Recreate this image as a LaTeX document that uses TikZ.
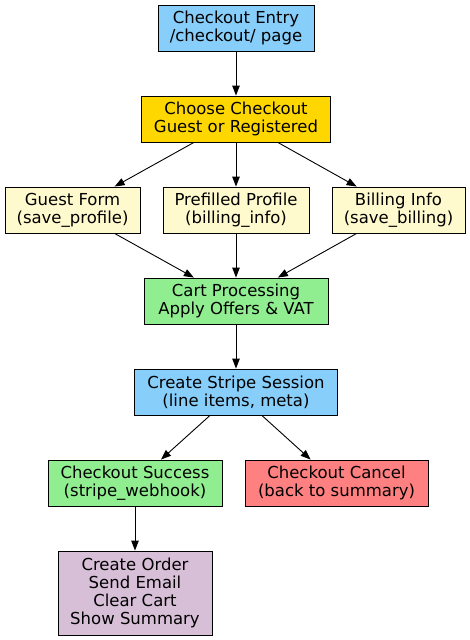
\documentclass[tikz,border=0pt]{standalone}
\usepackage{fontspec}
\setmainfont{DejaVu Sans}
\usetikzlibrary{arrows.meta, positioning}
\definecolor{stepBlue}{HTML}{87CEFA}
\definecolor{stepGold}{HTML}{FFD700}
\definecolor{stepCream}{HTML}{FFFACD}
\definecolor{stepGreen}{HTML}{90EE90}
\definecolor{stepRed}{HTML}{FF8080}
\definecolor{stepThistle}{HTML}{D8BFD8}
\tikzset{
  stepbox/.style={draw=black, line width=0.9pt, fill=#1, align=center,
                  minimum height=46pt, inner sep=2pt,
                  font=\fontsize{16.5}{18.2}\selectfont},
  flow/.style={-{Triangle[length=10pt, width=7.5pt]}, line width=0.9pt},
}

\begin{document}
\begin{tikzpicture}[x=1pt, y=-1pt]
\useasboundingbox (0,0) rectangle (470,640);
\node[stepbox=stepBlue,    minimum width=156pt] (entry)   at (236,28)   {Checkout Entry\\/checkout/ page};
\node[stepbox=stepGold,    minimum width=189pt] (choose)  at (236,119)  {Choose Checkout\\Guest or Registered};
\node[stepbox=stepCream,   minimum width=135pt] (guest)   at (72.5,210) {Guest Form\\(save\_profile)};
\node[stepbox=stepCream,   minimum width=146pt] (profile) at (236,210)  {Prefilled Profile\\(billing\_info)};
\node[stepbox=stepCream,   minimum width=133pt] (billing) at (398.5,210) {Billing Info\\(save\_billing)};
\node[stepbox=stepGreen,   minimum width=184pt] (cart)    at (236,301)  {Cart Processing\\Apply Offers \& VAT};
\node[stepbox=stepBlue,    minimum width=203pt] (stripe)  at (236,392)  {Create Stripe Session\\(line items, meta)};
\node[stepbox=stepGreen,   minimum width=174pt] (success) at (135,483)  {Checkout Success\\(stripe\_webhook)};
\node[stepbox=stepRed,     minimum width=183pt] (cancel)  at (336.5,483) {Checkout Cancel\\(back to summary)};
\node[stepbox=stepThistle, minimum width=154pt, minimum height=84pt] (order) at (135,593)
      {Create Order\\Send Email\\Clear Cart\\Show Summary};
% connectors
\draw[flow] (entry) -- (choose);
\foreach \target in {guest, profile, billing}{
  \draw[flow] (choose) -- (\target);
  \draw[flow] (\target) -- (cart);
}
\draw[flow] (cart) -- (stripe);
\draw[flow] (stripe) -- (success);
\draw[flow] (stripe) -- (cancel);
\draw[flow] (success) -- (order);
\end{tikzpicture}
\end{document}
